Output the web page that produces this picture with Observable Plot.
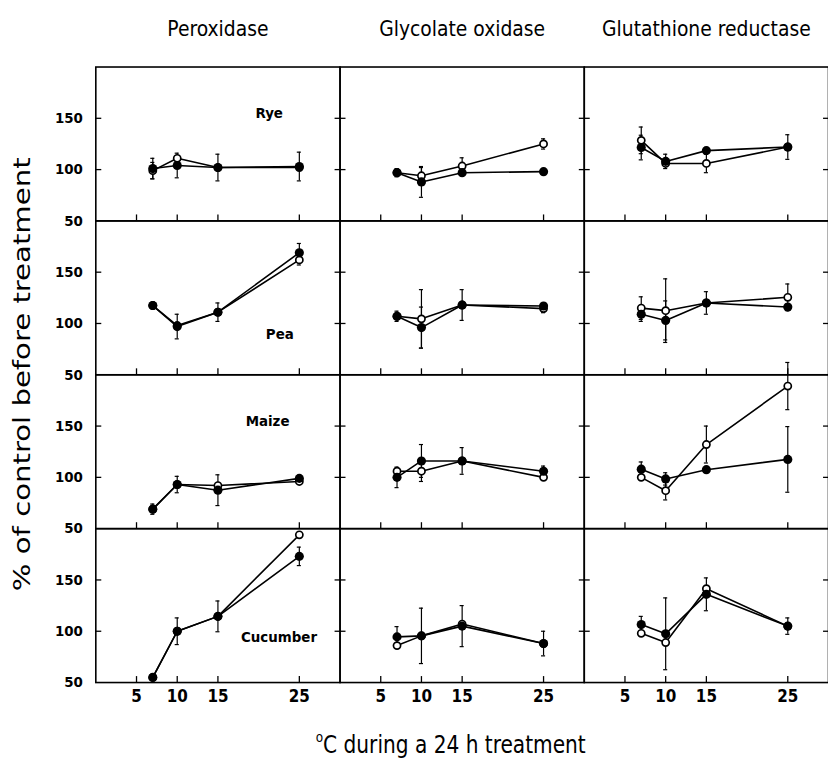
<!DOCTYPE html>
<html><head><meta charset="utf-8">
<script src="https://cdn.jsdelivr.net/npm/d3@7"></script>
<script src="https://cdn.jsdelivr.net/npm/@observablehq/plot@0.6"></script>
<style>
body{margin:0;background:#fff;}
#wrap{width:828px;height:767px;overflow:hidden;position:relative;background:#fff;}
</style></head><body><div id="wrap"></div>
<script>
// ---- categories and ticks ----
const enzymes = ["Peroxidase", "Glycolate oxidase", "Glutathione reductase"];
const crops = ["Rye", "Pea", "Maize", "Cucumber"];
const temps = [7, 10, 15, 25];
const xTicks = [5, 10, 15, 25];
const yTicks = [50, 100, 150];

// ---- values (% of control before treatment); filled = closed symbols, open = open symbols ----
const ryePeroxFilled = [101, 104, 102, 103];
const ryePeroxOpen   = [99, 111, 102, 102];
const ryePeroxErrF   = [10, 12, 13, 14];
const ryePeroxErrO   = [8, 0, 0, 0];

const ryeGlycFilled = [97, 88, 97, 98];
const ryeGlycOpen   = [97, 94, 103.5, 125];
const ryeGlycErrF   = [4, 15, 0, 0];
const ryeGlycErrO   = [0, 8, 8, 5];

const ryeGlutFilled = [121.5, 108, 118.5, 122];
const ryeGlutOpen   = [128.5, 106, 106, 122];
const ryeGlutErrF   = [12, 7, 3, 12];
const ryeGlutErrO   = [13, 0, 9, 0];

const peaPeroxFilled = [117.5, 97, 111, 169];
const peaPeroxOpen   = [117.5, 98, 111, 162];
const peaPeroxErrF   = [3, 12, 9, 9];
const peaPeroxErrO   = [0, 0, 0, 5];

const peaGlycFilled = [107, 96, 118, 117];
const peaGlycOpen   = [107, 104.5, 118, 114.5];
const peaGlycErrF   = [5, 20, 15, 0];
const peaGlycErrO   = [0, 28.5, 0, 4];

const peaGlutFilled = [109, 103, 120, 116];
const peaGlutOpen   = [115, 112.5, 120, 125.5];
const peaGlutErrF   = [7, 19, 11, 3];
const peaGlutErrO   = [11, 31, 0, 13];

const maizePeroxFilled = [69, 93, 87.5, 99];
const maizePeroxOpen   = [69, 93, 92, 96];
const maizePeroxErrF   = [5, 8, 15, 0];
const maizePeroxErrO   = [0, 0, 0, 0];

const maizeGlycFilled = [100, 116, 116, 106];
const maizeGlycOpen   = [106, 106, 116, 100];
const maizeGlycErrF   = [10, 16, 13, 5];
const maizeGlycErrO   = [0, 10, 0, 0];

const maizeGlutFilled = [108, 98.5, 107.5, 117.5];
const maizeGlutOpen   = [100, 87, 132, 189];
const maizeGlutErrF   = [7, 6, 0, 32];
const maizeGlutErrO   = [0, 9, 18, 23];

const cucPeroxFilled = [55, 100, 114.5, 173];
const cucPeroxOpen   = [55, 100, 114.5, 194];
const cucPeroxErrF   = [0, 13, 15, 9];
const cucPeroxErrO   = [0, 0, 0, 0];

const cucGlycFilled = [94.5, 95.5, 105, 88];
const cucGlycOpen   = [86, 95.5, 107, 88];
const cucGlycErrF   = [10, 27, 20, 12];
const cucGlycErrO   = [0, 0, 0, 0];

const cucGlutFilled = [106.5, 97.5, 136, 105];
const cucGlutOpen   = [98, 89, 141.5, 105];
const cucGlutErrF   = [8, 35, 16, 8];
const cucGlutErrO   = [0, 0, 0, 0];

// crop annotations (in the Peroxidase column), anchor in data units
const cropLabelX = [21.3, 22.6, 21.1, 22.5];
const cropLabelY = [155, 90, 155, 94];

// ---- build tidy table ----
const panelTable = [
  ["Rye", "Peroxidase", ryePeroxFilled, ryePeroxOpen, ryePeroxErrF, ryePeroxErrO],
  ["Rye", "Glycolate oxidase", ryeGlycFilled, ryeGlycOpen, ryeGlycErrF, ryeGlycErrO],
  ["Rye", "Glutathione reductase", ryeGlutFilled, ryeGlutOpen, ryeGlutErrF, ryeGlutErrO],
  ["Pea", "Peroxidase", peaPeroxFilled, peaPeroxOpen, peaPeroxErrF, peaPeroxErrO],
  ["Pea", "Glycolate oxidase", peaGlycFilled, peaGlycOpen, peaGlycErrF, peaGlycErrO],
  ["Pea", "Glutathione reductase", peaGlutFilled, peaGlutOpen, peaGlutErrF, peaGlutErrO],
  ["Maize", "Peroxidase", maizePeroxFilled, maizePeroxOpen, maizePeroxErrF, maizePeroxErrO],
  ["Maize", "Glycolate oxidase", maizeGlycFilled, maizeGlycOpen, maizeGlycErrF, maizeGlycErrO],
  ["Maize", "Glutathione reductase", maizeGlutFilled, maizeGlutOpen, maizeGlutErrF, maizeGlutErrO],
  ["Cucumber", "Peroxidase", cucPeroxFilled, cucPeroxOpen, cucPeroxErrF, cucPeroxErrO],
  ["Cucumber", "Glycolate oxidase", cucGlycFilled, cucGlycOpen, cucGlycErrF, cucGlycErrO],
  ["Cucumber", "Glutathione reductase", cucGlutFilled, cucGlutOpen, cucGlutErrF, cucGlutErrO]
];
const rows = [];
for (const [crop, enzyme, f, o, ef, eo] of panelTable) {
  temps.forEach((t, i) => {
    rows.push({crop, enzyme, temp: t, series: "open", value: o[i], err: eo[i]});
    rows.push({crop, enzyme, temp: t, series: "filled", value: f[i], err: ef[i]});
  });
}
const errRows = rows.filter(d => d.err > 0);
const cropLabels = crops.map((c, i) => ({crop: c, enzyme: enzymes[0], x: cropLabelX[i], y: cropLabelY[i]}));

const FONT = '"Liberation Sans Narrow","DejaVu Sans Condensed","Roboto Condensed",sans-serif';
const fc = {fx: "enzyme", fy: "crop"};

const svg = Plot.plot({
  width: 834, height: 767,
  marginLeft: 95, marginRight: 0, marginTop: 67, marginBottom: 80,
  style: {fontFamily: FONT, background: "white", color: "black", overflow: "visible"},
  x: {domain: [0, 30]},
  y: {domain: [50, 200]},
  fx: {domain: enzymes, padding: 0},
  fy: {domain: crops, padding: 0, axis: null},
  marks: [
    Plot.axisFx({anchor: "top", tickSize: 0, tickPadding: 31, fontSize: 21, fontWeight: 500, label: null}),
    Plot.axisX({anchor: "bottom", ticks: xTicks, tickSize: -6, tickFormat: () => "", facetAnchor: null, label: null, strokeWidth: 1.3}),
    Plot.axisX({anchor: "bottom", ticks: xTicks, tickSize: 0, tickPadding: 8, fontSize: 17, fontWeight: "bold", label: null}),
    Plot.axisY({anchor: "left", ticks: [100, 150], tickSize: -6, tickFormat: () => "", facetAnchor: null, label: null, strokeWidth: 1.3}),
    Plot.axisY({anchor: "right", ticks: [100, 150], tickSize: -6, tickFormat: () => "", facetAnchor: null, label: null, strokeWidth: 1.3}),
    Plot.axisY({anchor: "left", ticks: yTicks, tickSize: 0, tickPadding: 13, fontSize: 15, fontWeight: "bold", label: null}),
    Plot.frame({stroke: "black", strokeWidth: 1.6}),
    Plot.ruleX(errRows, {...fc, x: "temp", y1: d => d.value - d.err, y2: d => d.value + d.err, stroke: "black", strokeWidth: 1.2}),
    Plot.ruleY(errRows, {...fc, y: d => d.value + d.err, x1: d => d.temp - 0.25, x2: d => d.temp + 0.25, stroke: "black", strokeWidth: 1.2}),
    Plot.ruleY(errRows, {...fc, y: d => d.value - d.err, x1: d => d.temp - 0.25, x2: d => d.temp + 0.25, stroke: "black", strokeWidth: 1.2}),
    Plot.line(rows, {...fc, x: "temp", y: "value", z: "series", stroke: "black", strokeWidth: 1.6}),
    Plot.dot(rows.filter(d => d.series === "open"), {...fc, x: "temp", y: "value", r: 3.6, fill: "white", stroke: "black", strokeWidth: 1.7}),
    Plot.dot(rows.filter(d => d.series === "filled"), {...fc, x: "temp", y: "value", r: 4.6, fill: "black"}),
    Plot.text(cropLabels, {...fc, x: "x", y: "y", text: "crop", fontSize: 15, fontWeight: "bold", fill: "black"})
  ]
});

const s = d3.select(svg);
s.append("text")
  .attr("transform", "translate(22,377) rotate(-90)")
  .attr("text-anchor", "middle").attr("dominant-baseline", "central")
  .attr("font-family", FONT).attr("font-size", 23).attr("fill", "black")
  .attr("textLength", 437).attr("lengthAdjust", "spacingAndGlyphs")
  .text("% of control before treatment");
const xl = s.append("text")
  .attr("x", 454).attr("y", 758)
  .attr("text-anchor", "middle")
  .attr("font-family", FONT).attr("font-size", 25).attr("fill", "black")
  .attr("textLength", 272).attr("lengthAdjust", "spacingAndGlyphs");
xl.append("tspan").attr("font-size", 15).attr("dy", -11).text("o");
xl.append("tspan").attr("dy", 11).text("C during a 24 h treatment");

document.getElementById("wrap").appendChild(svg);
</script></body></html>
